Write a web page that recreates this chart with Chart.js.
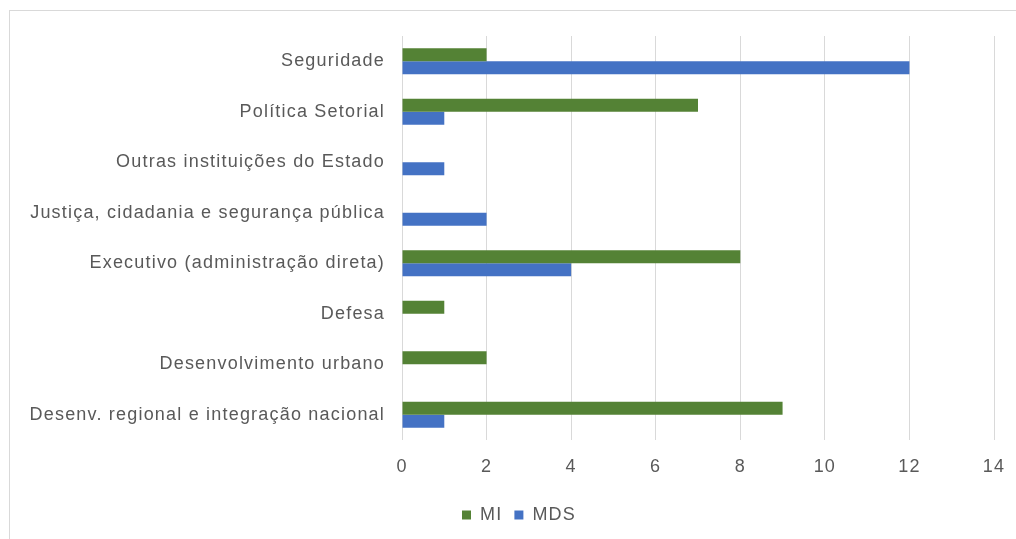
<html lang="pt">
  <head>
    <meta charset="utf-8" />
    <title>MI x MDS por área</title>
    <script src="https://cdn.jsdelivr.net/npm/chart.js@4.4.1/dist/chart.umd.min.js"></script>
    <style>
      html,
      body {
        margin: 0;
        padding: 0;
        background: #fff;
        overflow: hidden;
      }
      #frame {
        position: absolute;
        left: 9px;
        top: 10px;
        width: 1100px;
        height: 600px;
        border: 1px solid #d9d9d9;
      }
      #chartDiv {
        position: absolute;
        left: 0;
        top: 0;
        width: 1016px;
        height: 539px;
      }
    </style>
  </head>
  <body>
    <div id="frame"></div>
    <div id="chartDiv"><canvas id="bars"></canvas></div>

    <script>
      const categories = [
        "Seguridade",
        "Política Setorial",
        "Outras instituições do Estado",
        "Justiça, cidadania e segurança pública",
        "Executivo (administração direta)",
        "Defesa",
        "Desenvolvimento urbano",
        "Desenv. regional e integração nacional"
      ];
      const miValues = [2, 7, 0, 0, 8, 1, 2, 9];
      const mdsValues = [12, 1, 1, 2, 4, 0, 0, 1];
      const xTicks = [0, 2, 4, 6, 8, 10, 12, 14];

      const textColor = "#595959";
      const font = { family: "'Liberation Sans', Arial, sans-serif", size: 18 };

      // the original text is a bit spread out, canvas letterSpacing gets close
      const spacing = {
        id: "spacing",
        beforeLayout: (chart) => { chart.ctx.letterSpacing = "1.2px"; },
        beforeDraw: (chart) => { chart.ctx.letterSpacing = "1.2px"; },
        // legend in the original sits a little right of the middle
        afterLayout: (chart) => {
          chart.legend.left += 44;
        }
      };

      new Chart(document.getElementById("bars").getContext("2d"), {
        type: "bar",
        data: {
          labels: categories,
          datasets: [
            {
              label: "MI",
              data: miValues,
              backgroundColor: "#548235",
              categoryPercentage: 0.51,
              barPercentage: 1
            },
            {
              label: "MDS",
              data: mdsValues,
              backgroundColor: "#4472c4",
              categoryPercentage: 0.51,
              barPercentage: 1
            }
          ]
        },
        plugins: [spacing],
        options: {
          indexAxis: "y",
          responsive: true,
          maintainAspectRatio: false,
          animation: false,
          layout: {
            padding: { left: 0, top: 36, right: 22, bottom: 5 }
          },
          scales: {
            x: {
              min: xTicks[0],
              max: xTicks[xTicks.length - 1],
              afterBuildTicks: (axis) => {
                axis.ticks = xTicks.map((v) => ({ value: v }));
              },
              afterFit: (axis) => {
                axis.height = 54;
                axis.paddingLeft = 0;
                axis.paddingRight = 0;
              },
              grid: { color: "#d9d9d9", lineWidth: 1, drawTicks: false },
              border: { display: false },
              ticks: { color: textColor, font: font, padding: 16 }
            },
            y: {
              afterFit: (axis) => {
                axis.width = 402;
              },
              grid: { display: false, drawTicks: false },
              border: { display: false },
              ticks: { color: textColor, font: font, padding: 17 }
            }
          },
          plugins: {
            legend: {
              position: "bottom",
              labels: {
                color: textColor,
                font: font,
                boxWidth: 9,
                boxHeight: 9,
                padding: 12
              }
            },
            tooltip: { enabled: false }
          }
        }
      });
    </script>
  </body>
</html>
